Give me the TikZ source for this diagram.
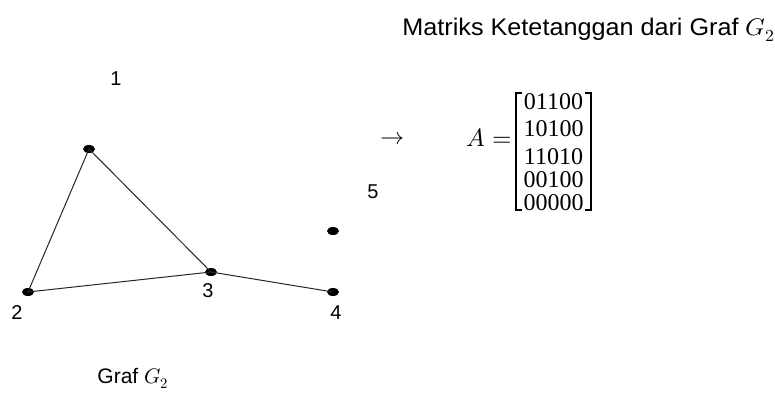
\documentclass[tikz,border=0pt]{standalone}
\usepackage{fontspec}
\usepackage{unicode-math}
\setmathfont{Latin Modern Math}
\newfontfamily\arialf{Liberation Sans}
\newfontfamily\digitf{Liberation Serif}
\usetikzlibrary{shapes.geometric}
\tikzset{
  vtx/.style={ellipse,fill=black,draw=none,minimum width=12pt,minimum height=8pt,inner sep=0pt},
  edge/.style={draw=black!85,line width=1pt},
  numlbl/.style={inner sep=0pt,font=\arialf\fontsize{20}{24}\selectfont},
  caption/.style={inner sep=0pt,font=\arialf\fontsize{21}{25}\selectfont},
  titlef/.style={inner sep=0pt,font=\arialf\fontsize{24}{28}\selectfont},
  mrow/.style={inner sep=0pt,font=\digitf\fontsize{24}{28}\selectfont},
  brk/.style={draw=black,line width=2pt}
}
\begin{document}
\begin{tikzpicture}[x=1pt,y=-1pt]
\useasboundingbox (0,0) rectangle (775,396);
% title
\node[titlef,anchor=east] (title) at (775,30) {\scalebox{1.05}[1]{Matriks Ketetanggan dari Graf $G_2$}};
% graph vertices
\node[vtx] (v1) at (89,149) {};
\node[vtx] (v2) at (28,292) {};
\node[vtx] (v3) at (211,272) {};
\node[vtx] (v4) at (333,292) {};
\node[vtx] (v5) at (333,231) {};
% labels
\node[numlbl] (l1) at (116,79) {1};
\node[numlbl] (l2) at (17,313) {2};
\node[numlbl] (l3) at (208,291) {3};
\node[numlbl] (l4) at (336,313) {4};
\node[numlbl] (l5) at (373,192) {5};
% edges
\draw[edge] (v1.center) -- (v2.center);
\draw[edge] (v1.center) -- (v3.center);
\draw[edge] (v2.center) -- (v3.center);
\draw[edge] (v3.center) -- (v4.center);
% caption
\node[caption] (cap) at (133,378) {Graf $G_2$};
% arrow
\node[inner sep=0pt,font=\fontsize{24}{26}\selectfont] (arr) at (392,138) {$\rightarrow$};
% A =
\node[inner sep=0pt,font=\fontsize{25}{28}\selectfont] (aeq) at (489,138) {$A=$};
% matrix rows
\node[mrow] (r1) at (553.5,102) {01100};
\node[mrow] (r2) at (553.5,129) {10100};
\node[mrow] (r3) at (553.5,157) {11010};
\node[mrow] (r4) at (553.5,180) {00100};
\node[mrow] (r5) at (553.5,203) {00000};
% brackets
\coordinate (bl1) at (522,93);
\coordinate (bl2) at (516,93);
\coordinate (bl3) at (516,210);
\coordinate (bl4) at (522,210);
\coordinate (br1) at (585,93);
\coordinate (br2) at (591,93);
\coordinate (br3) at (591,210);
\coordinate (br4) at (585,210);
\draw[brk] (bl1) -- (bl2) -- (bl3) -- (bl4);
\draw[brk] (br1) -- (br2) -- (br3) -- (br4);
\end{tikzpicture}
\end{document}
